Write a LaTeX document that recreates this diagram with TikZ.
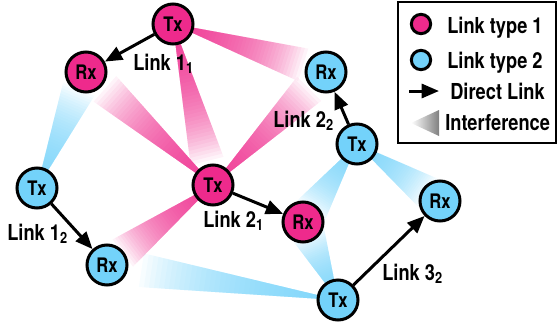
\documentclass[tikz,border=0pt]{standalone}
\usepackage{fontspec}
\setmainfont{TeX Gyre Heros}[FakeStretch=0.83]
\usetikzlibrary{arrows.meta}

\definecolor{typeone}{RGB}{238,42,140}
\definecolor{typetwo}{RGB}{115,210,250}
\pgfdeclarelayer{background}
\pgfsetlayers{background,main}

% interference beam from #1 towards #2 in colour #3, stacked thin wedges
\newcommand{\beam}[3]{%
  \pgfpointanchor{#1}{center}\pgfgetlastxy{\beamsx}{\beamsy}%
  \pgfpointanchor{#2}{center}\pgfgetlastxy{\beamex}{\beamey}%
  \pgfmathsetmacro\bsx{\beamsx}%
  \pgfmathsetmacro\bsy{\beamsy}%
  \pgfmathsetmacro\bdx{\beamex-\beamsx}%
  \pgfmathsetmacro\bdy{\beamey-\beamsy}%
  \pgfmathsetmacro\blen{veclen(\bdx,\bdy)}%
  \pgfmathsetmacro\bnx{-15*\bdy/\blen}%
  \pgfmathsetmacro\bny{15*\bdx/\blen}%
  \foreach \i in {1,...,40}
  {
    \pgfmathsetmacro\tb{\i/47}%
    \fill [#3, fill opacity=0.055]
      ({\bsx*1pt},{\bsy*1pt}) --
      ({(\bsx+\tb*\bdx+\tb*\bnx)*1pt},{(\bsy+\tb*\bdy+\tb*\bny)*1pt}) --
      ({(\bsx+\tb*\bdx-\tb*\bnx)*1pt},{(\bsy+\tb*\bdy-\tb*\bny)*1pt}) -- cycle;
  }
}

\begin{document}
\begin{tikzpicture}[x=0.75pt,y=-0.75pt]
\tikzstyle{radio}=[circle,draw,line width=2.25pt,minimum size=30pt,inner sep=0pt,font=\fontsize{15}{17}\selectfont\bfseries]
\tikzstyle{key}=[circle,draw,line width=2.25pt,minimum size=14.5pt,inner sep=0pt]
\tikzstyle{link}=[line width=2.25pt,-{Triangle[length=13pt,width=10.5pt]}]
\tikzstyle{lbl}=[anchor=base west,inner sep=0pt,font=\fontsize{16.5}{19}\selectfont\bfseries]

\useasboundingbox (0,0) rectangle (557,329);

% link type 1
\node [radio,fill=typeone] (tx11) at (173,24) {Tx};
\node [radio,fill=typeone] (rx11) at (86,72) {Rx};
\node [radio,fill=typeone] (tx21) at (213,185) {Tx};
\node [radio,fill=typeone] (rx21) at (303,222) {Rx};

% link type 2
\node [radio,fill=typetwo] (tx12) at (37,188) {Tx};
\node [radio,fill=typetwo] (rx12) at (107,265) {Rx};
\node [radio,fill=typetwo] (tx22) at (357,144) {Tx};
\node [radio,fill=typetwo] (rx22) at (326,72) {Rx};
\node [radio,fill=typetwo] (tx32) at (338,300) {Tx};
\node [radio,fill=typetwo] (rx32) at (440,201) {Rx};

% interference
\begin{pgfonlayer}{background}
\foreach \src/\dst in {tx11/rx22,tx11/tx21,tx21/rx11,tx21/rx22,tx21/rx12}
{
    \beam{\src}{\dst}{typeone}
}
\foreach \src/\dst in {tx12/rx11,tx32/rx12,tx32/rx21,tx22/rx21,tx22/rx32}
{
    \beam{\src}{\dst}{typetwo}
}
\end{pgfonlayer}

% direct links
\draw [link] (tx11) -- (rx11);
\draw [link] (tx21) -- (rx21);
\draw [link] (tx12) -- (rx12);
\draw [link] (tx22) -- (rx22);
\draw [link] (tx32) -- (rx32);
\node [lbl] (l11) at (133,70) {Link 1\textsubscript{1}};
\node [lbl] (l21) at (203,227) {Link 2\textsubscript{1}};
\node [lbl] (l12) at (7,240) {Link 1\textsubscript{2}};
\node [lbl] (l22) at (273,127) {Link 2\textsubscript{2}};
\node [lbl] (l32) at (382,280) {Link 3\textsubscript{2}};

% legend
\draw [line width=1.5pt] (398,2) rectangle (556,143);
\node [key,fill=typeone] (keyone) at (421,24) {};
\node [lbl] at (447,33) {Link type 1};
\node [key,fill=typetwo] (keytwo) at (421,60) {};
\node [lbl] at (447,68) {Link type 2};
\coordinate (keystart) at (409,91);
\coordinate (keyend) at (439,91);
\draw [link] (keystart) -- (keyend);
\node [lbl] at (450,99) {Direct Link};
\shade [left color=white,right color=black!50] (411,123) -- (439,110) -- (439,136) -- cycle;
\node [lbl] at (445,130) {Interference};
\end{tikzpicture}
\end{document}
